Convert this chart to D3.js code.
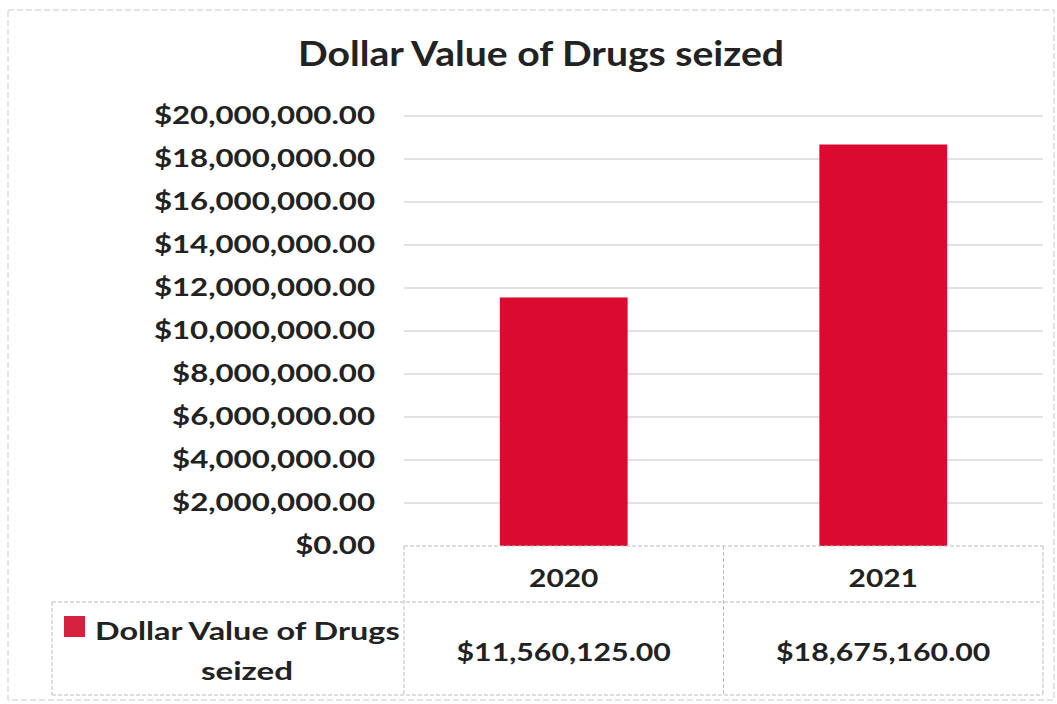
<!DOCTYPE html>
<html>
<head>
	<title>Dollar Value of Drugs seized</title>
	<script src="https://d3js.org/d3.v7.min.js"></script>
	<style>
		body { margin: 0; background: #fff; }
		text { font-family: Lato, "Open Sans", sans-serif; fill: #222; font-weight: bold; }
	</style>
</head>
<body>
<svg width="1057" height="704"></svg>
<script>
	const years = ["2020", "2021"];
	const values = [11560125, 18675160];
	const yTicks = [0, 2000000, 4000000, 6000000, 8000000, 10000000, 12000000, 14000000, 16000000, 18000000, 20000000];
	const seriesName = "Dollar Value of Drugs seized";

	const svg = d3.select("svg");
	const money = d3.format("$,.2f");

	// the scanned chart uses a wide bold face, so stretch lato a bit
	function widen(sel, k) {
		sel.each(function() {
			const w = this.getComputedTextLength();
			d3.select(this).attr("textLength", w * k).attr("lengthAdjust", "spacingAndGlyphs");
		});
	}

	// outer chart border (dashed in the scan)
	svg.append("rect")
		.attr("x", 8).attr("y", 10).attr("width", 1046).attr("height", 690)
		.attr("fill", "none").attr("stroke", "#c8c8c8").attr("stroke-dasharray", "6,3");

	svg.append("text")
		.attr("x", 541).attr("y", 66)
		.attr("text-anchor", "middle")
		.style("font-size", "34px")
		.text(seriesName)
		.call(widen, 1.15);

	const plotLeft = 404, plotRight = 1043, plotTop = 116, plotBottom = 546;

	const x = d3.scaleBand().domain(years).range([plotLeft, plotRight])
		.paddingInner(0.6).paddingOuter(0.3);
	const y = d3.scaleLinear().domain([0, 20000000]).range([plotBottom, plotTop]);

	// gridlines
	svg.append("g").selectAll("line")
		.data(yTicks.slice(1))
		.join("line")
		.attr("x1", plotLeft).attr("x2", plotRight)
		.attr("y1", d => y(d)).attr("y2", d => y(d))
		.attr("stroke", "#d9d9d9").attr("stroke-width", 1.5);

	const yAxis = d3.axisLeft(y).tickValues(yTicks).tickFormat(money).tickSize(0).tickPadding(0);
	const ga = svg.append("g").attr("transform", "translate(375,0)").call(yAxis);
	ga.select(".domain").remove();
	ga.selectAll("text")
		.style("font-size", "24px")
		.style("font-family", "Lato, 'Open Sans', sans-serif")
		.attr("fill", "#222")
		.call(widen, 1.3);

	svg.append("g").selectAll("rect")
		.data(values)
		.join("rect")
		.attr("x", (d, i) => x(years[i]))
		.attr("y", d => y(d))
		.attr("width", x.bandwidth())
		.attr("height", d => plotBottom - y(d))
		.attr("fill", "#db0a30");

	// data table
	const tableLines = svg.append("g")
		.attr("stroke", "#bdbdbd").attr("stroke-dasharray", "4,2").attr("fill", "none");
	const rowMid = 602, tableBottom = 695, legendLeft = 52;
	const colEdges = [plotLeft, plotLeft + (plotRight - plotLeft) / 2, plotRight];

	tableLines.append("line").attr("x1", plotLeft).attr("x2", plotRight).attr("y1", plotBottom).attr("y2", plotBottom);
	tableLines.append("line").attr("x1", legendLeft).attr("x2", plotRight).attr("y1", rowMid).attr("y2", rowMid);
	tableLines.append("line").attr("x1", legendLeft).attr("x2", plotRight).attr("y1", tableBottom).attr("y2", tableBottom);
	colEdges.forEach(cx => {
		tableLines.append("line").attr("x1", cx).attr("x2", cx).attr("y1", plotBottom).attr("y2", tableBottom);
	});
	tableLines.append("line").attr("x1", legendLeft).attr("x2", legendLeft).attr("y1", rowMid).attr("y2", tableBottom);

	svg.append("g").selectAll("text")
		.data(years)
		.join("text")
		.attr("x", d => x(d) + x.bandwidth() / 2)
		.attr("y", 587)
		.attr("text-anchor", "middle")
		.style("font-size", "24.5px")
		.text(d => d)
		.call(widen, 1.22);

	svg.append("g").selectAll("text")
		.data(values)
		.join("text")
		.attr("x", (d, i) => x(years[i]) + x.bandwidth() / 2)
		.attr("y", 661)
		.attr("text-anchor", "middle")
		.style("font-size", "25px")
		.text(d => money(d))
		.call(widen, 1.21);

	// legend key
	svg.append("rect")
		.attr("x", 64).attr("y", 616).attr("width", 21).attr("height", 21)
		.attr("fill", "#d4213f");
	svg.append("text")
		.attr("x", 95).attr("y", 640)
		.style("font-size", "25.5px")
		.text("Dollar Value of Drugs")
		.call(widen, 1.27);
	svg.append("text")
		.attr("x", 247).attr("y", 680)
		.attr("text-anchor", "middle")
		.style("font-size", "25.5px")
		.text("seized")
		.call(widen, 1.3);
</script>
</body>
</html>
